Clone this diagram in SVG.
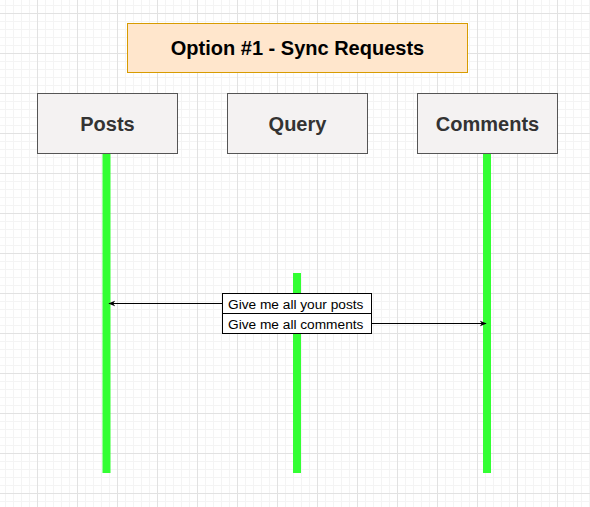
<svg xmlns="http://www.w3.org/2000/svg" width="590" height="507" viewBox="0 0 590 507">
<defs>
<pattern id="minor" x="5" y="5" width="8" height="8" patternUnits="userSpaceOnUse">
<path d="M0 0.5H8M0.5 0V8" fill="none" stroke="#f4f4f4" stroke-width="1"/>
</pattern>
<pattern id="major" x="-3" y="-27" width="40" height="40" patternUnits="userSpaceOnUse">
<path d="M0 0.5H40M0.5 0V40" fill="none" stroke="#e2e2e2" stroke-width="1"/>
</pattern>
<marker id="arrow" viewBox="0 0 10 10" refX="9" refY="5" markerWidth="7" markerHeight="7" orient="auto" markerUnits="userSpaceOnUse">
<path d="M0 1L10 5L0 9L3 5Z" fill="#000"/>
</marker>
<style>
.box{fill:#f4f2f2;stroke:#555;stroke-width:1}
.lbl{font-family:"Liberation Sans",Arial,sans-serif;font-weight:bold;font-size:20px;fill:#333;text-anchor:middle}
.life{fill:#33ff33}
.msg{fill:#fff;stroke:#000;stroke-width:1}
.msgt{font-family:"Liberation Sans",Arial,sans-serif;font-size:13.7px;fill:#000}
.conn{stroke:#000;stroke-width:1;fill:none;marker-end:url(#arrow)}
</style>
</defs>
<rect width="590" height="507" fill="#fff"/>
<rect width="590" height="507" fill="url(#minor)"/>
<rect width="590" height="507" fill="url(#major)"/>
<g id="title">
<rect x="127.5" y="23.5" width="340" height="49" fill="#ffe6cc" stroke="#d79b00"/>
<text x="297.5" y="54.5" font-family="'Liberation Sans',Arial,sans-serif" font-weight="bold" font-size="20" text-anchor="middle" fill="#000">Option #1 - Sync Requests</text>
</g>
<g id="lifelines">
<rect class="life" x="102.5" y="153" width="8" height="320"/>
<rect class="life" x="293" y="273" width="8" height="200"/>
<rect class="life" x="483" y="153" width="8" height="320"/>
</g>
<g id="posts">
<rect class="box" x="37.5" y="93.5" width="140" height="60"/>
<text class="lbl" x="107.5" y="130.5">Posts</text>
</g>
<g id="query">
<rect class="box" x="227.5" y="93.5" width="140" height="60"/>
<text class="lbl" x="297.5" y="130.5">Query</text>
</g>
<g id="comments">
<rect class="box" x="417.5" y="93.5" width="140" height="60"/>
<text class="lbl" x="487.5" y="130.5">Comments</text>
</g>
<g id="connectors">
<line class="conn" x1="222" y1="303.5" x2="109" y2="303.5"/>
<line class="conn" x1="372" y1="323.5" x2="486" y2="323.5"/>
</g>
<g id="msg-posts">
<rect class="msg" x="222.5" y="293.5" width="149" height="20"/>
<text class="msgt" x="228" y="308.5">Give me all your posts</text>
</g>
<g id="msg-comments">
<rect class="msg" x="222.5" y="313.5" width="149" height="20"/>
<text class="msgt" x="228" y="328.5">Give me all comments</text>
</g>
</svg>
